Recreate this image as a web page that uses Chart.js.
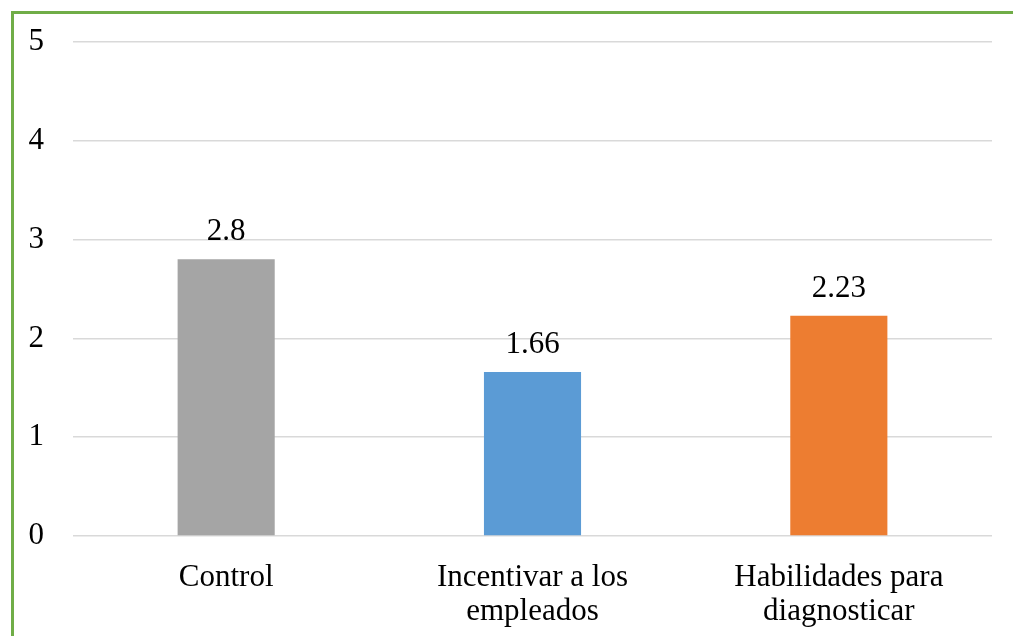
<!DOCTYPE html>
<html>
<head>
<meta charset="utf-8">
<script src="https://cdn.jsdelivr.net/npm/chart.js@4/dist/chart.umd.min.js"></script>
<style>
  html, body { margin: 0; padding: 0; background: #fff; overflow: hidden; }
  #wrap { position: relative; width: 1013px; height: 636px; }
  #frame { position: absolute; left: 11px; top: 11px; right: -20px; bottom: -20px; border: 3px solid #70AD47; pointer-events: none; }
  canvas { position: absolute; left: 0; top: 0; }
</style>
</head>
<body>
<div id="wrap">
  <canvas id="chart" width="1013" height="636"></canvas>
  <div id="frame"></div>
</div>
<script>
const categories = [["Control"], ["Incentivar a los", "empleados"], ["Habilidades para", "diagnosticar"]];
const values = [2.8, 1.66, 2.23];
const barColors = ["#A5A5A5", "#5B9BD5", "#ED7D31"];
const yTicks = [0, 1, 2, 3, 4, 5];

const FONT = "'Liberation Serif', 'Times New Roman', serif";
const FONT_SIZE = 31;

// Writes each bar's value just above it
const valueLabels = {
  id: 'valueLabels',
  afterDatasetsDraw(chart) {
    const ctx = chart.ctx;
    const meta = chart.getDatasetMeta(0);
    ctx.save();
    ctx.font = FONT_SIZE + "px " + FONT;
    ctx.fillStyle = "#000";
    ctx.textAlign = "center";
    ctx.textBaseline = "alphabetic";
    meta.data.forEach((bar, i) => {
      ctx.fillText(String(values[i]), bar.x, bar.y - 19);
    });
    ctx.restore();
  }
};

new Chart(document.getElementById('chart'), {
  type: 'bar',
  data: {
    labels: categories,
    datasets: [{
      data: values,
      backgroundColor: barColors,
      borderWidth: 0,
      categoryPercentage: 1,
      barPercentage: 0.317
    }]
  },
  options: {
    responsive: false,
    animation: false,
    devicePixelRatio: 1,
    layout: { padding: { left: 14, right: 21, top: 42, bottom: 0 } },
    plugins: { legend: { display: false }, tooltip: { enabled: false } },
    scales: {
      x: {
        grid: { display: false },
        border: { display: false },
        ticks: {
          color: "#000",
          padding: 17,
          maxRotation: 0,
          autoSkip: false,
          font: { family: FONT, size: FONT_SIZE, lineHeight: 1.1 }
        },
        afterFit(scale) { scale.height = 100; }
      },
      y: {
        min: 0,
        max: 5,
        afterBuildTicks(scale) { scale.ticks = yTicks.map(v => ({ value: v })); },
        grid: { color: "#D9D9D9", lineWidth: 1.5, drawTicks: false },
        border: { display: false },
        ticks: {
          color: "#000",
          padding: 29,
          font: { family: FONT, size: FONT_SIZE }
        },
        afterFit(scale) {
          scale.width = 59;
          scale.paddingTop = 0;
          scale.paddingBottom = 0;
        }
      }
    }
  },
  plugins: [valueLabels]
});
</script>
</body>
</html>
